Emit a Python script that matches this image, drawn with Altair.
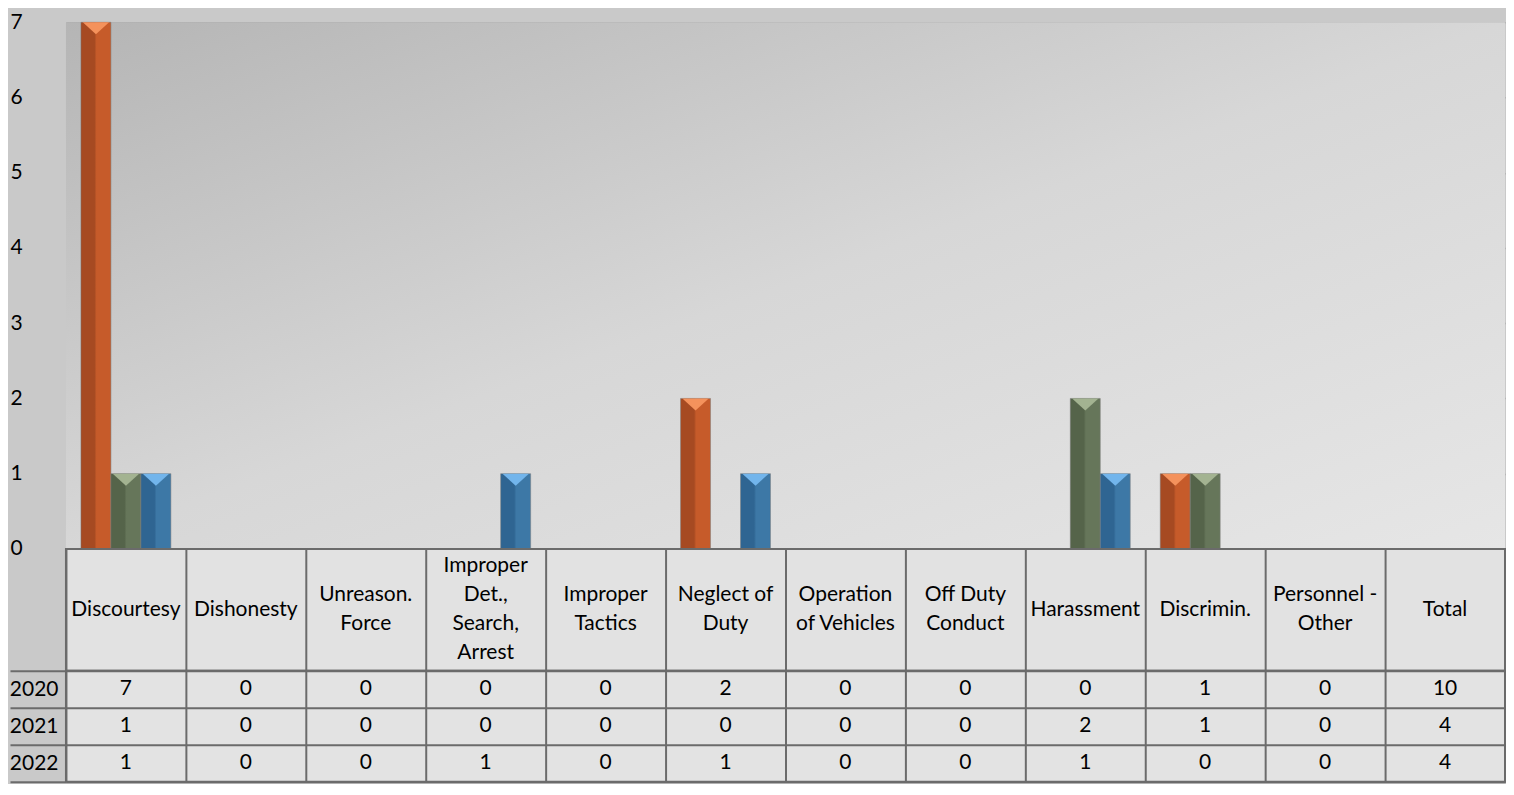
import altair as alt
import pandas as pd

categories = ["Discourtesy", "Dishonesty", "Unreason. Force", "Improper Det., Search, Arrest",
              "Improper Tactics", "Neglect of Duty", "Operation of Vehicles", "Off Duty Conduct",
              "Harassment", "Discrimin.", "Personnel - Other", "Total"]
header_labels = ["Discourtesy", "Dishonesty", "Unreason.\nForce", "Improper\nDet.,\nSearch,\nArrest",
                 "Improper\nTactics", "Neglect of\nDuty", "Operation\nof Vehicles", "Off Duty\nConduct",
                 "Harassment", "Discrimin.", "Personnel -\nOther", "Total"]
years = ["2020", "2021", "2022"]
v2020 = [7, 0, 0, 0, 0, 2, 0, 0, 0, 1, 0, 10]
v2021 = [1, 0, 0, 0, 0, 0, 0, 0, 2, 1, 0, 4]
v2022 = [1, 0, 0, 1, 0, 1, 0, 0, 1, 0, 0, 4]

series = {"2020": v2020, "2021": v2021, "2022": v2022}
rows = []
for y in years:
    for c, v in zip(categories, series[y]):
        rows.append({"category": c, "year": y, "value": v})
df = pd.DataFrame(rows)

# header text split into lines; line index centred around the cell middle
head_rows = []
for c, lab in zip(categories, header_labels):
    parts = lab.split("\n")
    n = len(parts)
    for i, p in enumerate(parts):
        head_rows.append({"category": c, "line": p, "pos": i - (n - 1) / 2})
df_head = pd.DataFrame(head_rows)

FONT = "Lato"
FS = 21
TL = "#6b6b6b"
W = 1440
BH = 527
HH = 122
RH = 111
LH = 29

dark = {"2020": "#a64a22", "2021": "#55644a", "2022": "#2f6592"}
body = {"2020": "#c65b2a", "2021": "#66765a", "2022": "#3d78a6"}
tri = ["#f4925c", "#a3b391", "#72b5ec"]

xscale = alt.Scale(type="band", domain=categories, paddingInner=0, paddingOuter=0)
xoff = alt.XOffset("year:N", scale=alt.Scale(domain=years, paddingOuter=0.5, paddingInner=0))
yscale = alt.Scale(domain=[0, 7], nice=False)

bg = alt.Chart(pd.DataFrame({"bg": [0]})).mark_rect(
    color={"gradient": "linear", "x1": 0, "y1": 0, "x2": 1, "y2": 1,
           "stops": [{"offset": 0, "color": "#b5b5b5"},
                     {"offset": 0.5, "color": "#d7d7d7"},
                     {"offset": 1, "color": "#e6e6e6"}]})

layers = [bg]
for y in years:
    grad = {"gradient": "linear", "x1": 0, "y1": 0, "x2": 1, "y2": 0,
            "stops": [{"offset": 0, "color": dark[y]},
                      {"offset": 0.45, "color": dark[y]},
                      {"offset": 0.52, "color": body[y]},
                      {"offset": 1, "color": body[y]}]}
    layers.append(
        alt.Chart(df).transform_filter(
            f"datum.year == '{y}' && datum.category != 'Total' && datum.value > 0"
        ).mark_bar(color=grad, stroke="#7a7a7a", strokeOpacity=0.5, strokeWidth=1).encode(
            x=alt.X("category:N", scale=xscale, axis=None),
            xOffset=xoff,
            y=alt.Y("value:Q", scale=yscale,
                    axis=alt.Axis(values=list(range(8)), format="d", grid=True,
                                  gridColor="#a6a6a6", gridWidth=1.5, domain=False,
                                  ticks=False, labelFont=FONT, labelFontSize=FS,
                                  labelColor="#000", labelAlign="left", labelPadding=56,
                                  title=None)),
        )
    )
layers.append(
    alt.Chart(df).transform_filter("datum.category != 'Total' && datum.value > 0").mark_point(
        shape="M-0.88,0L0.88,0L0,0.8Z", filled=True, size=900, opacity=1, strokeWidth=0
    ).encode(
        x=alt.X("category:N", scale=xscale, axis=None),
        xOffset=xoff,
        y=alt.Y("value:Q", scale=yscale),
        color=alt.Color("year:N", scale=alt.Scale(domain=years, range=tri), legend=None),
    )
)

bars = alt.layer(*layers).properties(
    width=W, height=BH, view=alt.ViewBackground(stroke=None)
)

grid_x = alt.Axis(grid=True, tickBand="extent", gridColor=TL, gridWidth=2, labels=False,
                  ticks=False, domain=False, title=None)

half = HH / 2 / LH
header = alt.Chart(df_head).mark_text(
    font=FONT, fontSize=FS, color="#000", baseline="middle"
).encode(
    x=alt.X("category:N", scale=xscale, axis=grid_x),
    y=alt.Y("pos:Q", scale=alt.Scale(domain=[-half, half], reverse=True, nice=False, zero=False),
            axis=None),
    text="line:N",
).properties(width=W, height=HH,
             view=alt.ViewBackground(fill="#e2e2e2", stroke=TL, strokeWidth=2))

table = alt.Chart(df).mark_text(font=FONT, fontSize=FS, color="#000").encode(
    x=alt.X("category:N", scale=xscale, axis=grid_x),
    y=alt.Y("year:N", scale=alt.Scale(type="band", domain=years, paddingInner=0, paddingOuter=0),
            axis=alt.Axis(grid=True, tickBand="extent", gridColor=TL, gridWidth=2, ticks=True,
                          tickSize=56, tickColor=TL, tickWidth=2, domain=False,
                          labelPadding=-48, labelFont=FONT, labelFontSize=FS, labelColor="#000",
                          title=None)),
    text="value:Q",
).properties(width=W, height=RH,
             view=alt.ViewBackground(fill="#e3e3e3", stroke=TL, strokeWidth=2))

chart = alt.vconcat(bars, header, table, spacing=0, bounds="flush").properties(
    padding={"left": 0, "top": 3, "right": 0, "bottom": 0}
).configure(background="#c9c9c9")

chart.save("out.html", embed_options={"renderer": "svg", "actions": False})
